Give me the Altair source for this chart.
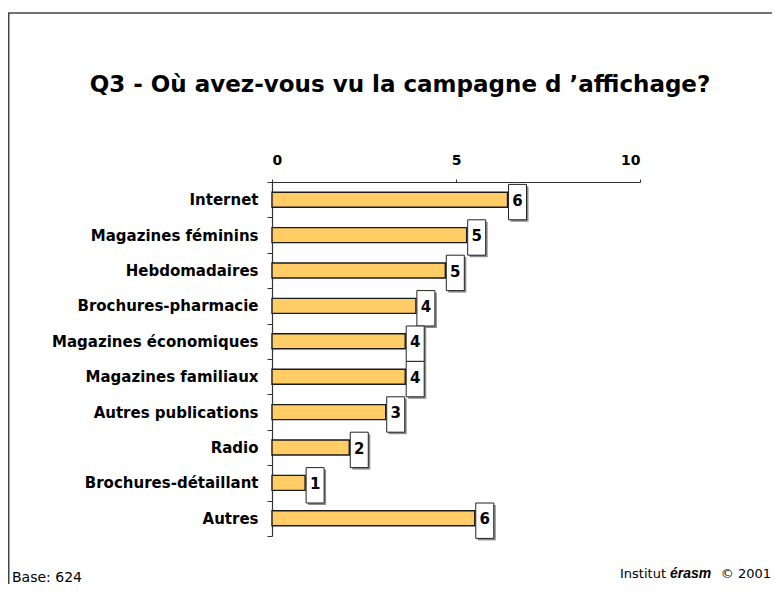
import altair as alt
import pandas as pd

categories = ["Internet", "Magazines féminins", "Hebdomadaires", "Brochures-pharmacie",
              "Magazines économiques", "Magazines familiaux", "Autres publications",
              "Radio", "Brochures-détaillant", "Autres"]
values = [6.40, 5.29, 4.71, 3.91, 3.62, 3.62, 3.09, 2.10, 0.90, 5.51]
labels = ["6", "5", "5", "4", "4", "4", "3", "2", "1", "6"]
x_ticks = [0, 5, 10]

title_text = "Q3 - Où avez-vous vu la campagne d \u2019affichage?"
base_text = "Base: 624"
inst_words = ["Institut", "érasm", "\u00a9 2001"]

df = pd.DataFrame({"cat": categories, "val": values, "lab": labels})

FONT = "DejaVu Sans"
W, H = 368, 354

x_enc = alt.X("val:Q", scale=alt.Scale(domain=[0, 10], nice=False),
              axis=alt.Axis(orient="top", values=x_ticks, title=None, grid=False,
                            labelFont=FONT, labelFontSize=14, labelFontWeight="bold",
                            labelColor="black", labelPadding=12, tickSize=3,
                            tickColor="#333", domainColor="#333", domainWidth=1.2,
                            labelAngle=0))
y_enc = alt.Y("cat:N", sort=categories, scale=alt.Scale(paddingInner=0, paddingOuter=0),
              axis=alt.Axis(title=None, tickBand="extent", tickSize=5, labelPadding=9,
                            labelFont=FONT, labelFontSize=15, labelFontWeight="bold",
                            labelColor="black", tickColor="#333", domainColor="#333",
                            domainWidth=1.2, labelLimit=300, grid=False))

base = alt.Chart(df)
ycat = alt.Y("cat:N", sort=categories)

bars = base.mark_bar(size=15, fill="#FFCC66", stroke="#1a1a1a", strokeWidth=1.4).encode(
    x=x_enc, y=y_enc)

shadow = base.mark_rect(fill="#8c8c8c", xOffset=3, x2Offset=21, yOffset=4.4, y2Offset=0.3).encode(
    x="val:Q", x2="val2:Q", y=ycat).transform_calculate(val2="datum.val")
box = base.mark_rect(fill="white", stroke="#222", strokeWidth=1, xOffset=1, x2Offset=19,
                     yOffset=2.4, y2Offset=-1.7).encode(
    x="val:Q", x2="val2:Q", y=ycat).transform_calculate(val2="datum.val")
txt = base.mark_text(align="center", baseline="middle", dx=10, dy=1, font=FONT, fontSize=15,
                     fontWeight="bold", color="black").encode(
    x="val:Q", y=ycat, text="lab:N")

one = pd.DataFrame({"a": [0]})
frame_top = alt.Chart(one).mark_rule(color="#444", strokeWidth=1.5).encode(
    x=alt.value(-264), x2=alt.value(500), y=alt.value(-169))
frame_left = alt.Chart(one).mark_rule(color="#444", strokeWidth=1.5).encode(
    x=alt.value(-263.25), y=alt.value(-169), y2=alt.value(402))

title_mark = alt.Chart(pd.DataFrame({"t": [title_text]})).mark_text(
    font=FONT, fontSize=23, fontWeight="bold", align="center", baseline="alphabetic",
    color="black").encode(x=alt.value(128), y=alt.value(-90), text="t:N")
base_mark = alt.Chart(pd.DataFrame({"t": [base_text]})).mark_text(
    font=FONT, fontSize=14, align="left", baseline="alphabetic", color="black").encode(
    x=alt.value(-260), y=alt.value(400), text="t:N")
inst1 = alt.Chart(pd.DataFrame({"t": [inst_words[0]]})).mark_text(
    font=FONT, fontSize=13, align="left", baseline="alphabetic", color="black").encode(
    x=alt.value(348), y=alt.value(396), text="t:N")
inst2 = alt.Chart(pd.DataFrame({"t": [inst_words[1]]})).mark_text(
    font="Liberation Sans", fontSize=14, fontWeight="bold", fontStyle="italic", align="left",
    baseline="alphabetic", color="black").encode(
    x=alt.value(398), y=alt.value(396), text="t:N")
inst3 = alt.Chart(pd.DataFrame({"t": [inst_words[2]]})).mark_text(
    font=FONT, fontSize=13, align="right", baseline="alphabetic", color="black").encode(
    x=alt.value(499), y=alt.value(396), text="t:N")

chart = alt.layer(bars, shadow, box, txt, frame_top, frame_left, title_mark, base_mark,
                  inst1, inst2, inst3).properties(
    width=W, height=H,
    background="white",
    autosize=alt.AutoSizeParams(type="none"),
    padding={"left": 264, "top": 174, "right": 132, "bottom": 48},
).configure_view(stroke="transparent", strokeWidth=0).configure_axis(grid=False)

chart.save("out.html", embed_options={"renderer": "svg", "actions": False})
